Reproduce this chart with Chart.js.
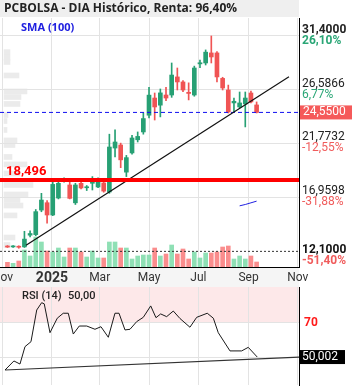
<!DOCTYPE html>
<html>
<head>
<meta charset="utf-8">
<script src="https://cdn.jsdelivr.net/npm/chart.js@4.4.1/dist/chart.umd.min.js"></script>
<style>
  body { margin: 0; background: #fff; }
  #wrap { position: relative; width: 353px; height: 390px; overflow: hidden; }
  canvas { position: absolute; left: 0; }
</style>
</head>
<body>
<div id="wrap">
  <canvas id="profile" width="353" height="287" style="top:0"></canvas>
  <canvas id="main" width="353" height="287" style="top:0"></canvas>
  <canvas id="rsi" width="353" height="103" style="top:287px"></canvas>
</div>
<script>
// weekly candles
const dates = ['2024-11-07','2024-11-14','2024-11-21','2024-11-28','2024-12-05','2024-12-12','2024-12-19','2024-12-26',
  '2025-01-02','2025-01-09','2025-01-16','2025-01-23','2025-01-30','2025-02-06','2025-02-13','2025-02-20','2025-02-27',
  '2025-03-06','2025-03-13','2025-03-20','2025-03-27','2025-04-03','2025-04-10','2025-04-17','2025-04-24',
  '2025-05-01','2025-05-08','2025-05-15','2025-05-22','2025-05-29','2025-06-05','2025-06-12','2025-06-19','2025-06-26',
  '2025-07-03','2025-07-10','2025-07-17','2025-07-24','2025-07-31','2025-08-07','2025-08-14','2025-08-21','2025-08-28',
  '2025-09-04','2025-09-11'];
const opens  = [12.55,12.50,12.56,12.50,13.55,13.60,15.80,16.46,15.36,16.88,18.45,18.05,16.45,18.20,17.80,18.20,17.87,18.23,17.42,21.36,21.63,19.20,20.92,22.10,22.80,24.30,25.84,25.20,26.11,26.11,27.73,27.28,26.35,26.11,28.90,28.98,29.88,29.88,27.60,26.56,25.40,25.04,25.31,26.29,25.22];
const highs  = [12.62,12.62,12.60,13.90,13.95,15.85,17.30,16.65,18.50,18.35,18.70,18.30,18.20,18.40,18.00,18.80,18.70,18.40,22.60,22.98,21.80,20.70,22.50,22.80,24.50,26.80,26.29,26.65,26.80,28.98,28.53,27.40,27.20,28.70,29.25,30.15,31.40,30.00,27.70,27.00,25.84,26.38,26.38,26.47,25.49];
const lows   = [12.45,12.45,12.38,12.45,13.40,13.50,15.65,14.62,15.30,16.80,18.30,16.80,16.30,17.70,17.55,17.60,17.80,17.40,17.30,20.56,19.60,18.80,20.80,21.90,22.60,24.05,23.87,24.15,25.60,25.90,26.56,26.40,25.67,26.00,28.55,28.80,28.98,27.28,26.56,24.50,24.59,24.95,23.25,25.40,24.50];
const closes = [12.49,12.56,12.47,13.20,13.70,15.66,16.70,15.36,18.10,18.20,18.55,16.85,18.05,17.78,17.87,18.45,18.60,17.50,21.45,21.90,20.30,20.50,22.26,22.40,24.00,26.10,25.04,26.30,25.84,27.90,27.28,26.56,26.25,28.53,29.00,29.95,29.52,27.73,26.74,24.59,25.55,25.40,25.84,25.49,24.55];
const volumes = [4.7,3.7,6,17,11,30,25,16,15,19,10,19,19,15,10,16,9,9,25,25,19,19,8,11,12,12,19,11,13,22,13,18,8,15,9,14,14,15,20,21,8,11,8,11,5];

// SMA(100), only the last weeks
const smaDates = ['2025-08-21','2025-08-28','2025-09-04','2025-09-11'];
const smaValues = [16.18, 16.30, 16.45, 16.60];

// support line
const trendDates = ['2024-11-30','2025-10-21'];
const trendValues = [12.65, 27.75];

const lastPrice = 24.55;
const supportLevel = 18.496;
const minLow = 12.1;

// right axis
const axisLevels = [31.4, 26.5866, 21.7732, 16.9598];
const axisPct = ['26,10%', '6,77%', '-12,55%', '-31,88%'];
const minPct = '-51,40%';

// volume by price (left)
const profilePrices = [29.95,29.45,29.07,27.86,26.43,25.93,25.31,24.32,23.78,22.98,22.04,21.63,20.56,19.89,19.08,18.05,17.20,16.70,16.21,15.32,13.34,12.67];
const profileVolumes = [6,6,6,15,23,17,16,4,3,3,13,11,8,23,16,29,24,16,19,13,11,6];

// x axis
const monthTicks = ['2024-11-01','2025-01-01','2025-03-01','2025-05-01','2025-07-01','2025-09-01','2025-11-01'];
const monthLabels = ['Nov','2025','Mar','May','Jul','Sep','Nov'];

// RSI(14)
const rsiDays = [3,14,21.5,27.7,35.1,42.2,48.3,51.5,58.6,67.6,75,81.2,87.4,94.8,104,114.2,121.6,130.7,138.9,143.9,151.3,157.5,165.8,173.9,183.1,189.6,195.4,202.8,211,219.3,231.6,239.9,253,260.5,266.6,281.1,295.5,303.7,314.8];
const rsiValues = [42.4,47.7,45.9,56.1,59.0,77.6,81.9,81.2,64.3,72.8,75.7,75.7,63.5,68.2,68.2,66.3,67.8,61.6,75.7,75.7,65.9,66.3,70.8,73.3,80.0,73.1,75.3,73.7,77.0,72.6,67.5,73.3,75.7,72.8,64.3,53.6,53.6,55.7,50.0];
const rsiTrendDays = [3, 366.4];
const rsiTrendValues = [42.4, 50.002];

const BASE = Date.parse('2024-11-01');
const toDay = s => (Date.parse(s) - BASE) / 864e5;

const xMin = -3.2, xMax = 366.4;
const priceMin = 10.70, priceMax = 33.01;
const rsiMin = 33.6, rsiMax = 91.1;

const GREEN = '#27a074', RED = '#f05454';
const VGREEN = '#8fe0b5', VRED = '#fa8d8d';
const GRID = '#e3e3e3';

Chart.defaults.font.family = 'Roboto';
Chart.defaults.animation = false;

const days = dates.map(toDay);
const isUp = closes.map((c, i) => c >= opens[i]);
const monthDays = monthTicks.map(toDay);
const comma = (v, d) => v.toFixed(d).replace('.', ',');

function xScale(stripHeight) {
  return {
    type: 'linear', min: xMin, max: xMax, offset: false,
    afterBuildTicks: s => { s.ticks = monthDays.map(v => ({ value: v })); },
    grid: { color: GRID, drawTicks: false, offset: false },
    border: { display: stripHeight > 0, color: '#000' },
    ticks: { display: false },
    afterFit: s => { s.height = stripHeight; s.paddingLeft = 0; s.paddingRight = 0; }
  };
}

const mainDecor = {
  id: 'mainDecor',
  beforeDraw(c) {
    const ctx = c.ctx, a = c.chartArea;
    ctx.save();
    ctx.fillStyle = '#efefef';
    ctx.fillRect(0, 0, a.right, 17);
    ctx.fillStyle = '#f5f5f5';
    ctx.fillRect(0, a.bottom + 1, a.right, c.height - a.bottom - 1);
    ctx.restore();
  },
  afterDraw(c) {
    const ctx = c.ctx, x = c.scales.x, y = c.scales.y, a = c.chartArea;
    ctx.save();
    ctx.textBaseline = 'middle';
    ctx.textAlign = 'left';
    // title
    ctx.fillStyle = '#222';
    ctx.font = 'bold 12px "Open Sans"';
    ctx.fillText('PCBOLSA - DIA Histórico, Renta: 96,40%', 4, 9);
    ctx.fillStyle = '#2020e0';
    ctx.font = 'bold 11px "Open Sans"';
    ctx.fillText('SMA (100)', 21, 28);
    // support label
    ctx.fillStyle = '#ff0000';
    ctx.font = 'bold 13px Roboto';
    ctx.fillText(comma(supportLevel, 3), 6, y.getPixelForValue(supportLevel) - 8);
    // month labels
    ctx.textAlign = 'center';
    monthDays.forEach((d, i) => {
      ctx.fillStyle = '#333';
      ctx.font = i === 1 ? 'bold 14px Roboto' : '12px Roboto';
      ctx.fillText(monthLabels[i], x.getPixelForValue(d), a.bottom + 11);
    });
    ctx.textAlign = 'left';
    // right axis labels
    axisLevels.forEach((v, i) => {
      const py = y.getPixelForValue(v);
      const bold = i === 0;
      ctx.font = (bold ? 'bold ' : '') + '12px Roboto';
      ctx.fillStyle = '#222';
      ctx.fillText(comma(v, 4), a.right + 3, py - 6);
      ctx.fillStyle = axisPct[i].startsWith('-') ? '#f05c5c' : '#2aa676';
      ctx.fillText(axisPct[i], a.right + 3, py + 5);
    });
    const pm = y.getPixelForValue(minLow);
    ctx.font = 'bold 12px Roboto';
    ctx.fillStyle = '#111';
    ctx.fillText(comma(minLow, 4), a.right + 3, pm - 1);
    ctx.fillStyle = '#f05c5c';
    ctx.fillText(minPct, a.right + 3, pm + 10);
    // last price box
    const pl = y.getPixelForValue(lastPrice);
    ctx.fillStyle = '#f55a5a';
    ctx.fillRect(a.right + 1, pl - 7, 52, 14);
    ctx.fillStyle = '#fff';
    ctx.font = '12px Roboto';
    ctx.fillText(comma(lastPrice, 4), a.right + 4, pl);
    ctx.restore();
  }
};

const hLine = (v, color, width, dash, order) => ({
  type: 'line', order, data: [{ x: xMin, y: v }, { x: xMax, y: v }],
  borderColor: color, borderWidth: width, borderDash: dash, pointRadius: 0
});

new Chart(document.getElementById('profile'), {
  type: 'bar',
  data: {
    datasets: [{
      data: profilePrices.map((p, i) => ({ y: p, x: profileVolumes[i] })),
      backgroundColor: '#ebebeb', barThickness: 5, borderWidth: 0
    }]
  },
  options: {
    indexAxis: 'y', responsive: false, events: [],
    layout: { padding: { top: 18, bottom: 20, left: 0, right: 54 } },
    plugins: { legend: { display: false }, tooltip: { enabled: false } },
    scales: {
      x: { type: 'linear', display: false, min: -4, max: 295 },
      y: { type: 'linear', display: false, offset: false, min: priceMin, max: priceMax }
    }
  }
});

new Chart(document.getElementById('main'), {
  type: 'bar',
  data: {
    datasets: [
      hLine(supportLevel, '#ff0000', 4, [], 0),
      {
        type: 'line', order: 1,
        data: trendDates.map((d, i) => ({ x: toDay(d), y: trendValues[i] })),
        borderColor: '#111', borderWidth: 1.2, pointRadius: 0
      },
      hLine(lastPrice, '#1010f0', 1, [4, 3], 2),
      hLine(minLow, '#333', 1, [2, 2], 3),
      {
        type: 'line', order: 4,
        data: smaDates.map((d, i) => ({ x: toDay(d), y: smaValues[i] })),
        borderColor: '#2020e0', borderWidth: 1, pointRadius: 0
      },
      {
        type: 'bar', order: 5, grouped: false,
        data: days.map((d, i) => ({ x: d, y: [opens[i], closes[i]] })),
        backgroundColor: isUp.map(u => (u ? GREEN : RED)),
        barThickness: 4, minBarLength: 1, borderWidth: 0
      },
      {
        type: 'bar', order: 6, grouped: false,
        data: days.map((d, i) => ({ x: d, y: [lows[i], highs[i]] })),
        backgroundColor: isUp.map(u => (u ? GREEN : RED)),
        barThickness: 1, borderWidth: 0
      },
      {
        type: 'bar', order: 7, grouped: false, yAxisID: 'yv',
        data: days.map((d, i) => ({ x: d, y: volumes[i] })),
        backgroundColor: isUp.map(u => (u ? VGREEN : VRED)),
        barThickness: 4, borderWidth: 0
      }
    ]
  },
  options: {
    responsive: false, events: [],
    layout: { padding: { top: 18, left: 0, right: 0, bottom: 0 } },
    plugins: { legend: { display: false }, tooltip: { enabled: false } },
    scales: {
      x: xScale(20),
      y: {
        position: 'right', min: priceMin, max: priceMax,
        afterBuildTicks: s => { s.ticks = axisLevels.map(v => ({ value: v })); },
        grid: { color: GRID, drawTicks: false },
        border: { color: '#000' },
        ticks: { display: false },
        afterFit: s => { s.width = 54; }
      },
      yv: { display: false, min: 0, max: 249 }
    }
  },
  plugins: [mainDecor]
});

const rsiDecor = {
  id: 'rsiDecor',
  beforeDraw(c) {
    const ctx = c.ctx, a = c.chartArea, y = c.scales.y;
    ctx.save();
    ctx.fillStyle = '#fde8e9';
    ctx.fillRect(a.left, a.top, a.right - a.left, y.getPixelForValue(70) - a.top);
    ctx.restore();
  },
  afterDraw(c) {
    const ctx = c.ctx, a = c.chartArea, y = c.scales.y;
    ctx.save();
    ctx.textBaseline = 'middle';
    ctx.textAlign = 'left';
    ctx.fillStyle = '#222';
    ctx.font = '500 11px Roboto';
    ctx.fillText('RSI (14)', 22, 9);
    ctx.fillText(comma(rsiValues[rsiValues.length - 1], 2), 68, 9);
    ctx.fillStyle = '#ff1a1a';
    ctx.font = 'bold 12px Roboto';
    ctx.fillText('70', a.right + 5, y.getPixelForValue(70));
    const last = rsiTrendValues[rsiTrendValues.length - 1];
    const pl = y.getPixelForValue(last);
    ctx.fillStyle = '#000';
    ctx.fillRect(a.right, pl - 7, 46, 14);
    ctx.fillStyle = '#fff';
    ctx.font = '12px Roboto';
    ctx.fillText(comma(last, 3), a.right + 3, pl);
    ctx.restore();
  }
};

new Chart(document.getElementById('rsi'), {
  type: 'line',
  data: {
    datasets: [
      {
        data: rsiDays.map((d, i) => ({ x: d, y: rsiValues[i] })),
        borderColor: '#1a1a1a', borderWidth: 1, pointRadius: 0, tension: 0
      },
      {
        data: rsiTrendDays.map((d, i) => ({ x: d, y: rsiTrendValues[i] })),
        borderColor: '#333', borderWidth: 1.2, pointRadius: 0
      }
    ]
  },
  options: {
    responsive: false, events: [],
    layout: { padding: { top: 0, left: 0, right: 0, bottom: 5 } },
    plugins: { legend: { display: false }, tooltip: { enabled: false } },
    scales: {
      x: xScale(0),
      y: {
        position: 'right', min: rsiMin, max: rsiMax,
        afterBuildTicks: s => { s.ticks = [50, 70].map(v => ({ value: v })); },
        grid: { color: GRID, drawTicks: false },
        border: { color: '#000' },
        ticks: { display: false },
        afterFit: s => { s.width = 54; }
      }
    }
  },
  plugins: [rsiDecor]
});
</script>
</body>
</html>
